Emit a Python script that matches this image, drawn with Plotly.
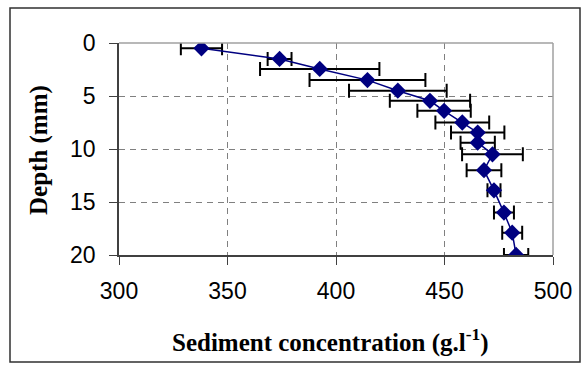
import plotly.graph_objects as go

depth = [0.5, 1.5, 2.45, 3.5, 4.5, 5.45, 6.4, 7.5, 8.45, 9.4, 10.5, 12.0, 13.9, 16.0, 17.9, 20.0]
conc = [338.0, 374.0, 392.5, 414.5, 428.5, 443.3, 449.8, 458.2, 465.3, 465.3, 472.1, 468.2, 472.8, 477.4, 481.2, 483.0]
err = [9.5, 5.5, 27.5, 26.7, 22.5, 18.5, 12.3, 12.4, 12.3, 7.9, 14.0, 8.0, 3.0, 4.6, 4.6, 5.6]

x_ticks = [300, 350, 400, 450, 500]
y_ticks = [0, 5, 10, 15, 20]

W, H = 585, 365
L, R, T, B = 119, 32, 43, 110
pw, ph = W - L - R, H - T - B

def px(x):
    return (x - L) / pw

def py(y):
    return (H - B - y) / ph

fig = go.Figure()
fig.add_trace(go.Scatter(
    x=conc, y=depth, mode="lines+markers",
    line=dict(color="#000080", width=1.5),
    marker=dict(symbol="diamond", size=12.5, color="#000080"),
    error_x=dict(type="data", array=err, symmetric=True, color="black", thickness=2, width=7),
    showlegend=False,
))

tickfont = dict(family="Arial, Liberation Sans, sans-serif", size=23, color="black")
titlefont = dict(family="Times New Roman, Liberation Serif, serif", size=25, color="black", weight="bold")
fig.update_layout(
    width=W, height=H,
    margin=dict(l=L, r=R, t=T, b=B),
    paper_bgcolor="white", plot_bgcolor="white",
    xaxis=dict(range=[300, 500], tickvals=x_ticks, ticks="outside", ticklen=8, tickcolor="#404040",
               showline=True, linecolor="#404040", linewidth=1.5, showgrid=True, gridcolor="#808080",
               griddash="6px,5px", gridwidth=1, zeroline=False, tickfont=tickfont, ticklabelstandoff=7),
    yaxis=dict(range=[20, 0], tickvals=y_ticks, ticks="outside", ticklen=8, tickcolor="#404040",
               showline=True, linecolor="#404040", linewidth=1.5, showgrid=True, gridcolor="#808080",
               griddash="6px,5px", gridwidth=1, zeroline=False, tickfont=tickfont, ticklabelstandoff=9),
    shapes=[
        dict(type="line", xref="paper", yref="paper", x0=0, x1=1, y0=1, y1=1, line=dict(color="#A0A0A0", width=1.5)),
        dict(type="line", xref="paper", yref="paper", x0=1, x1=1, y0=0, y1=1, line=dict(color="#A0A0A0", width=1.5)),
        dict(type="rect", xref="paper", yref="paper", x0=px(10), x1=px(580), y0=py(362), y1=py(8),
             line=dict(color="#303030", width=1.5)),
    ],
    annotations=[
        dict(text="Sediment concentration (g.l<sup>-1</sup>)", xref="paper", yref="paper",
             x=px(330), y=py(340), xanchor="center", yanchor="middle", showarrow=False, font=titlefont),
        dict(text="Depth (mm)", xref="paper", yref="paper", textangle=-90,
             x=px(39), y=py(150), xanchor="center", yanchor="middle", showarrow=False, font=titlefont),
    ],
)

fig.write_html("out.html")
